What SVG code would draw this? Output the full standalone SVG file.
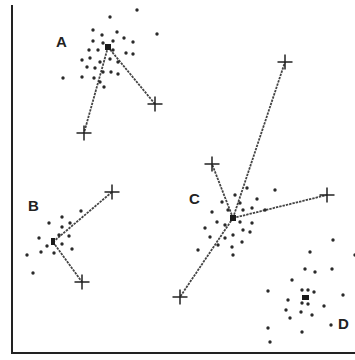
<svg xmlns="http://www.w3.org/2000/svg" width="355" height="360" viewBox="0 0 355 360">
<style>
.ax{stroke:#222;stroke-width:2;fill:none}
.ln{stroke:#444;stroke-width:1.8;stroke-dasharray:2.4 1;fill:none}
.cr{stroke:#222;stroke-width:1.5;fill:none}
.d{fill:#2a2a2a}
.c{fill:#1a1a1a}
.lb{font-family:"Liberation Sans",Arial,sans-serif;font-weight:bold;font-size:15px;fill:#222}
</style>
<defs>
<circle id="p" r="1.7"/>
<path id="x" d="M-7.5 0H7.5M0 -7.5V7.5"/>
</defs>
<rect width="355" height="360" fill="#fff"/>
<g id="axes">
<path class="ax" d="M12 5V353H355"/>
</g>
<g id="connectors">
<path class="ln" d="M108 47L84 133M108 47L155 104"/>
<path class="ln" d="M53 242L112 192M53 242L82 282"/>
<path class="ln" d="M233 218L285 62M233 218L212 164M233 218L327 195M233 218L180 297"/>
</g>
<g id="crosses" class="cr">
<use href="#x" x="84" y="133"/>
<use href="#x" x="155" y="104"/>
<use href="#x" x="112" y="192"/>
<use href="#x" x="82" y="282"/>
<use href="#x" x="285" y="62"/>
<use href="#x" x="212" y="164"/>
<use href="#x" x="327" y="195"/>
<use href="#x" x="180" y="297"/>
</g>
<g id="clusterA">
<text class="lb" x="56" y="47">A</text>
<g class="d">
<use href="#p" x="110" y="17"/><use href="#p" x="137" y="10"/><use href="#p" x="157" y="34"/>
<use href="#p" x="93" y="30"/><use href="#p" x="102" y="35"/><use href="#p" x="117" y="32"/>
<use href="#p" x="124" y="38"/><use href="#p" x="133" y="42"/><use href="#p" x="93" y="41"/>
<use href="#p" x="103" y="43"/><use href="#p" x="113" y="41"/><use href="#p" x="126" y="53"/>
<use href="#p" x="133" y="54"/><use href="#p" x="89" y="50"/><use href="#p" x="98" y="50"/>
<use href="#p" x="113" y="50"/><use href="#p" x="82" y="60"/><use href="#p" x="90" y="58"/>
<use href="#p" x="100" y="62"/><use href="#p" x="110" y="59"/><use href="#p" x="118" y="62"/>
<use href="#p" x="87" y="67"/><use href="#p" x="95" y="68"/><use href="#p" x="103" y="72"/>
<use href="#p" x="111" y="72"/><use href="#p" x="118" y="74"/><use href="#p" x="82" y="77"/>
<use href="#p" x="94" y="78"/><use href="#p" x="63" y="78"/><use href="#p" x="104" y="87"/>
<use href="#p" x="100" y="82"/>
</g>
<rect class="c" x="105" y="44" width="6" height="6"/>
</g>
<g id="clusterB">
<text class="lb" x="28" y="211">B</text>
<g class="d">
<use href="#p" x="81" y="211"/><use href="#p" x="62" y="217"/><use href="#p" x="49" y="223"/>
<use href="#p" x="70" y="223"/><use href="#p" x="62" y="227"/><use href="#p" x="39" y="238"/>
<use href="#p" x="59" y="235"/><use href="#p" x="69" y="236"/><use href="#p" x="47" y="246"/>
<use href="#p" x="62" y="244"/><use href="#p" x="72" y="249"/><use href="#p" x="41" y="252"/>
<use href="#p" x="54" y="253"/><use href="#p" x="27" y="255"/><use href="#p" x="33" y="273"/>
</g>
<rect class="c" x="51" y="238" width="4" height="7"/>
</g>
<g id="clusterC">
<text class="lb" x="189" y="204">C</text>
<g class="d">
<use href="#p" x="247" y="188"/><use href="#p" x="275" y="190"/><use href="#p" x="235" y="195"/>
<use href="#p" x="222" y="202"/><use href="#p" x="257" y="199"/><use href="#p" x="240" y="203"/>
<use href="#p" x="212" y="212"/><use href="#p" x="228" y="210"/><use href="#p" x="243" y="210"/>
<use href="#p" x="252" y="208"/><use href="#p" x="265" y="210"/><use href="#p" x="217" y="222"/>
<use href="#p" x="205" y="228"/><use href="#p" x="225" y="225"/><use href="#p" x="240" y="222"/>
<use href="#p" x="252" y="223"/><use href="#p" x="210" y="237"/><use href="#p" x="225" y="238"/>
<use href="#p" x="233" y="235"/><use href="#p" x="243" y="230"/><use href="#p" x="250" y="232"/>
<use href="#p" x="218" y="245"/><use href="#p" x="232" y="247"/><use href="#p" x="242" y="242"/>
<use href="#p" x="198" y="250"/><use href="#p" x="233" y="255"/>
</g>
<rect class="c" x="230" y="215" width="6" height="6"/>
</g>
<g id="clusterD">
<text class="lb" x="338" y="329">D</text>
<g class="d">
<use href="#p" x="333" y="240"/><use href="#p" x="310" y="252"/><use href="#p" x="355" y="255"/>
<use href="#p" x="305" y="269"/><use href="#p" x="315" y="272"/><use href="#p" x="332" y="269"/>
<use href="#p" x="292" y="280"/><use href="#p" x="268" y="291"/><use href="#p" x="302" y="290"/>
<use href="#p" x="308" y="290"/><use href="#p" x="314" y="292"/><use href="#p" x="343" y="295"/>
<use href="#p" x="288" y="300"/><use href="#p" x="302" y="303"/><use href="#p" x="308" y="304"/>
<use href="#p" x="324" y="306"/><use href="#p" x="286" y="310"/><use href="#p" x="301" y="312"/>
<use href="#p" x="312" y="315"/><use href="#p" x="290" y="318"/><use href="#p" x="331" y="325"/>
<use href="#p" x="268" y="328"/><use href="#p" x="302" y="332"/><use href="#p" x="270" y="342"/>
</g>
<rect class="c" x="302" y="295" width="7" height="5"/>
</g>
</svg>
